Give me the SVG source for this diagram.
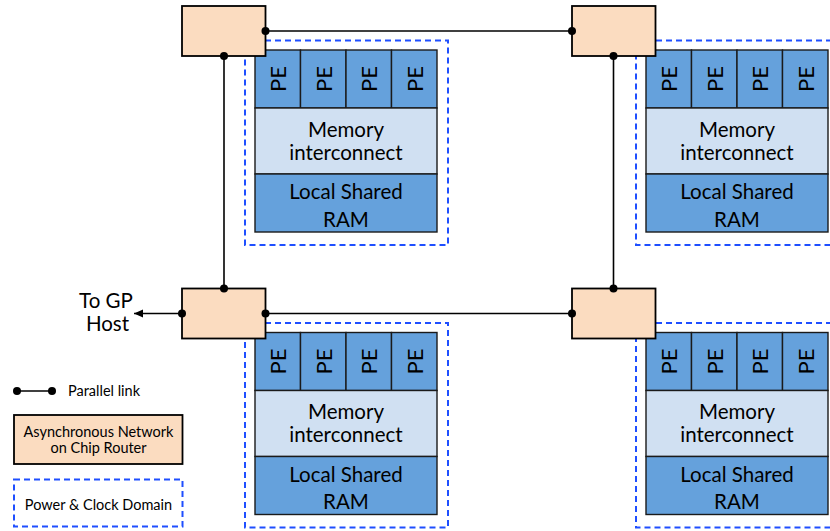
<svg xmlns="http://www.w3.org/2000/svg" width="830" height="531" viewBox="0 0 830 531">
  <style>
    text { font-family: Lato, "Open Sans", "Liberation Sans", sans-serif; fill: #000; }
    .router { fill: #FBDCC0; stroke: #000; stroke-width: 1.8; }
    .domain { fill: none; stroke: #1F4FFF; stroke-width: 2; stroke-dasharray: 6 4; }
    .pe { fill: #65A1DC; stroke: #1a1a1a; stroke-width: 1.4; }
    .mem { fill: #D0E0F2; stroke: #1a1a1a; stroke-width: 1.4; }
    .ram { fill: #65A1DC; stroke: #1a1a1a; stroke-width: 1.4; }
    .big { font-size: 20.5px; text-anchor: middle; }
    .pelabel { font-size: 22px; text-anchor: middle; }
    .small { font-size: 14.5px; }
    .link { stroke: #000; stroke-width: 1.6; fill: none; }
    .dot { fill: #000; }
  </style>
  <defs>
    <marker id="arrow" markerWidth="10" markerHeight="10" refX="9" refY="4" orient="auto" markerUnits="userSpaceOnUse">
      <path d="M0,0 L9,4 L0,8 Z" fill="#000"/>
    </marker>
  </defs>

  <!-- processing tiles: power/clock domain, 4 PEs, memory interconnect, shared RAM -->
  <g id="tile-top-left">
    <rect class="domain" x="245" y="40.5" width="203" height="204.5"/>
    <rect class="pe" x="255" y="50" width="45.5" height="58"/>
    <rect class="pe" x="300.5" y="50" width="45.5" height="58"/>
    <rect class="pe" x="346" y="50" width="45.5" height="58"/>
    <rect class="pe" x="391.5" y="50" width="45.5" height="58"/>
    <text class="pelabel" transform="translate(286,79) rotate(-90)">PE</text>
    <text class="pelabel" transform="translate(331.5,79) rotate(-90)">PE</text>
    <text class="pelabel" transform="translate(377,79) rotate(-90)">PE</text>
    <text class="pelabel" transform="translate(422.5,79) rotate(-90)">PE</text>
    <rect class="mem" x="255" y="108" width="182" height="66"/>
    <text class="big" x="346" y="136.5">Memory</text>
    <text class="big" x="346" y="159.5">interconnect</text>
    <rect class="ram" x="255" y="174" width="182" height="58"/>
    <text class="big" x="346" y="199">Local Shared</text>
    <text class="big" x="346" y="226.5">RAM</text>
  </g>

  <g id="tile-top-right" transform="translate(391,0)">
    <rect class="domain" x="245" y="40.5" width="220" height="204.5"/>
    <rect class="pe" x="255" y="50" width="45.5" height="58"/>
    <rect class="pe" x="300.5" y="50" width="45.5" height="58"/>
    <rect class="pe" x="346" y="50" width="45.5" height="58"/>
    <rect class="pe" x="391.5" y="50" width="45.5" height="58"/>
    <text class="pelabel" transform="translate(286,79) rotate(-90)">PE</text>
    <text class="pelabel" transform="translate(331.5,79) rotate(-90)">PE</text>
    <text class="pelabel" transform="translate(377,79) rotate(-90)">PE</text>
    <text class="pelabel" transform="translate(422.5,79) rotate(-90)">PE</text>
    <rect class="mem" x="255" y="108" width="182" height="66"/>
    <text class="big" x="346" y="136.5">Memory</text>
    <text class="big" x="346" y="159.5">interconnect</text>
    <rect class="ram" x="255" y="174" width="182" height="58"/>
    <text class="big" x="346" y="199">Local Shared</text>
    <text class="big" x="346" y="226.5">RAM</text>
  </g>

  <g id="tile-bottom-left" transform="translate(0,282.5)">
    <rect class="domain" x="245" y="40.5" width="203" height="204.5"/>
    <rect class="pe" x="255" y="50" width="45.5" height="58"/>
    <rect class="pe" x="300.5" y="50" width="45.5" height="58"/>
    <rect class="pe" x="346" y="50" width="45.5" height="58"/>
    <rect class="pe" x="391.5" y="50" width="45.5" height="58"/>
    <text class="pelabel" transform="translate(286,79) rotate(-90)">PE</text>
    <text class="pelabel" transform="translate(331.5,79) rotate(-90)">PE</text>
    <text class="pelabel" transform="translate(377,79) rotate(-90)">PE</text>
    <text class="pelabel" transform="translate(422.5,79) rotate(-90)">PE</text>
    <rect class="mem" x="255" y="108" width="182" height="66"/>
    <text class="big" x="346" y="136.5">Memory</text>
    <text class="big" x="346" y="159.5">interconnect</text>
    <rect class="ram" x="255" y="174" width="182" height="58"/>
    <text class="big" x="346" y="199">Local Shared</text>
    <text class="big" x="346" y="226.5">RAM</text>
  </g>

  <g id="tile-bottom-right" transform="translate(391,282.5)">
    <rect class="domain" x="245" y="40.5" width="220" height="204.5"/>
    <rect class="pe" x="255" y="50" width="45.5" height="58"/>
    <rect class="pe" x="300.5" y="50" width="45.5" height="58"/>
    <rect class="pe" x="346" y="50" width="45.5" height="58"/>
    <rect class="pe" x="391.5" y="50" width="45.5" height="58"/>
    <text class="pelabel" transform="translate(286,79) rotate(-90)">PE</text>
    <text class="pelabel" transform="translate(331.5,79) rotate(-90)">PE</text>
    <text class="pelabel" transform="translate(377,79) rotate(-90)">PE</text>
    <text class="pelabel" transform="translate(422.5,79) rotate(-90)">PE</text>
    <rect class="mem" x="255" y="108" width="182" height="66"/>
    <text class="big" x="346" y="136.5">Memory</text>
    <text class="big" x="346" y="159.5">interconnect</text>
    <rect class="ram" x="255" y="174" width="182" height="58"/>
    <text class="big" x="346" y="199">Local Shared</text>
    <text class="big" x="346" y="226.5">RAM</text>
  </g>

  <!-- network-on-chip routers -->
  <g id="router-top-left"><rect class="router" x="182" y="6" width="83.5" height="50"/></g>
  <g id="router-top-right"><rect class="router" x="572" y="6" width="83.5" height="50"/></g>
  <g id="router-bottom-left"><rect class="router" x="182" y="288.5" width="83.5" height="50"/></g>
  <g id="router-bottom-right"><rect class="router" x="572" y="288.5" width="83.5" height="50"/></g>

  <!-- parallel links between routers -->
  <g id="connectors">
    <line class="link" x1="265.5" y1="31" x2="572" y2="31"/>
    <line class="link" x1="224" y1="56" x2="224" y2="288.5"/>
    <line class="link" x1="613.5" y1="56" x2="613.5" y2="288.5"/>
    <line class="link" x1="265.5" y1="313.5" x2="572" y2="313.5"/>
    <line class="link" x1="182" y1="313.5" x2="134" y2="313.5" marker-end="url(#arrow)"/>
    <circle class="dot" cx="265.5" cy="31" r="4"/>
    <circle class="dot" cx="572" cy="31" r="4"/>
    <circle class="dot" cx="224" cy="56" r="4"/>
    <circle class="dot" cx="224" cy="288.5" r="4"/>
    <circle class="dot" cx="613.5" cy="56" r="4"/>
    <circle class="dot" cx="613.5" cy="288.5" r="4"/>
    <circle class="dot" cx="265.5" cy="313.5" r="4"/>
    <circle class="dot" cx="572" cy="313.5" r="4"/>
    <circle class="dot" cx="182" cy="313.5" r="4"/>
  </g>

  <g id="host-label">
    <text class="big" x="106" y="307.5">To GP</text>
    <text class="big" x="107.5" y="331">Host</text>
  </g>

  <!-- legend -->
  <g id="legend">
    <line class="link" x1="17" y1="391" x2="52" y2="391"/>
    <circle class="dot" cx="17" cy="391" r="4"/>
    <circle class="dot" cx="52" cy="391" r="4"/>
    <text class="small" x="68" y="396">Parallel link</text>
    <rect class="router" x="14" y="415" width="168.5" height="49"/>
    <text class="small" x="98.5" y="437" text-anchor="middle">Asynchronous Network</text>
    <text class="small" x="98.5" y="453" text-anchor="middle">on Chip Router</text>
    <rect class="domain" x="14" y="479.5" width="168.5" height="47"/>
    <text class="small" x="98.5" y="510" text-anchor="middle">Power &amp; Clock Domain</text>
  </g>
</svg>
